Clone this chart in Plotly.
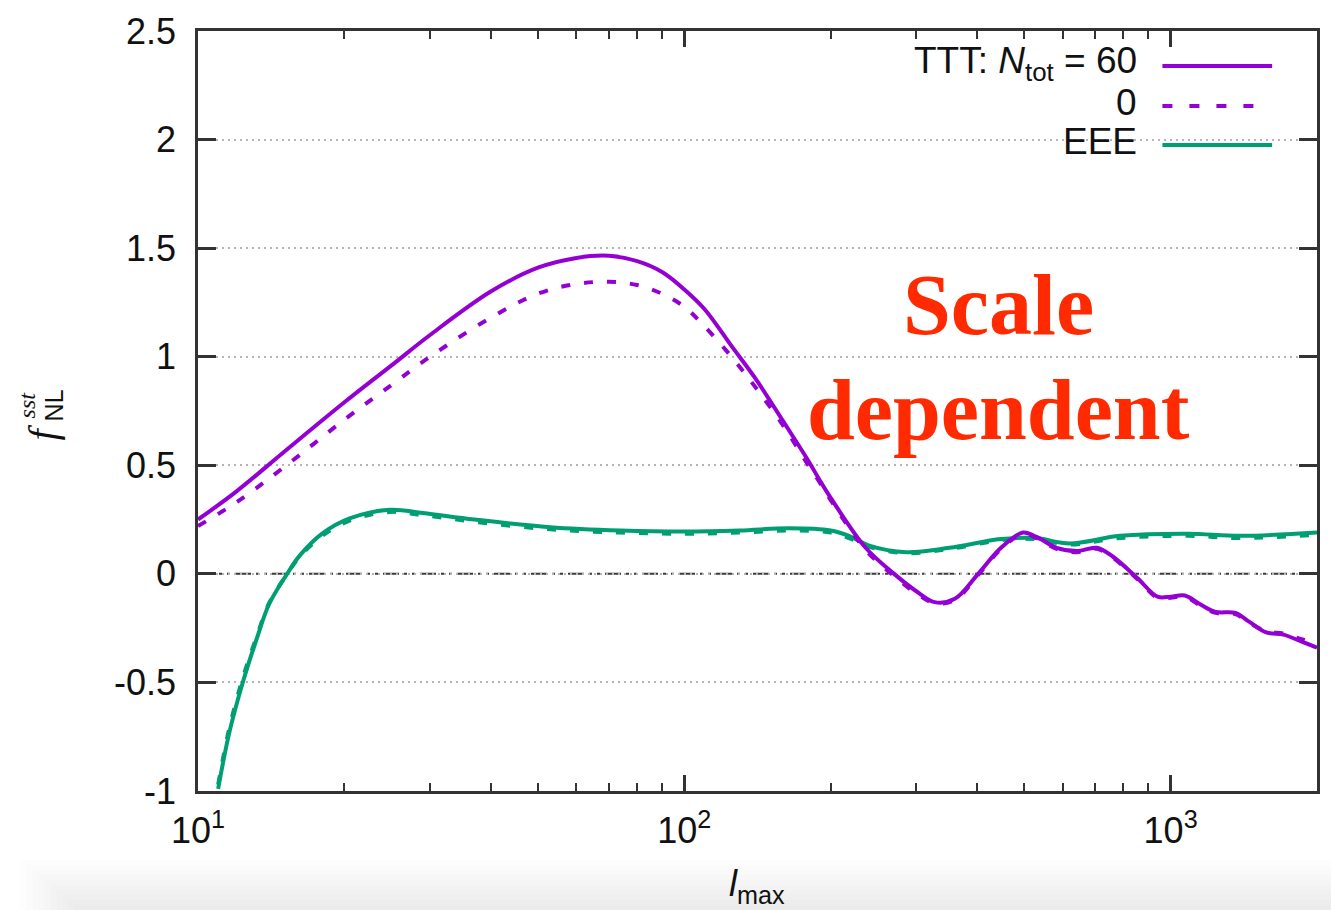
import numpy as np
import plotly.graph_objects as go

# ---- data -------------------------------------------------------------
# TTT bispectrum, N_tot = 60 (solid) and N_tot = 0 (dashed)
l_ttt = [10, 12, 15, 20, 25, 30, 40, 50, 60, 70, 80, 90, 100, 110, 125, 140,
         160, 180, 190, 200, 236, 270, 300, 327, 360, 402, 448, 497, 530, 583,
         641, 705, 760, 855, 940, 1000, 1069, 1150, 1237, 1359, 1450, 1573,
         1706, 1850, 2000]
f_ttt_60 = [0.25, 0.38, 0.56, 0.79, 0.96, 1.10, 1.30, 1.41, 1.455, 1.465, 1.44,
            1.39, 1.31, 1.22, 1.05, 0.90, 0.70, 0.52, 0.43, 0.35, 0.12, 0.0,
            -0.08, -0.13, -0.115, 0.0, 0.12, 0.19, 0.17, 0.12, 0.105, 0.12,
            0.08, -0.02, -0.105, -0.105, -0.10, -0.14, -0.175, -0.18, -0.22,
            -0.27, -0.28, -0.31, -0.34]
f_ttt_0 = [0.22, 0.33, 0.49, 0.71, 0.87, 1.00, 1.18, 1.29, 1.335, 1.345, 1.33,
           1.29, 1.23, 1.14, 1.00, 0.86, 0.68, 0.50, 0.42, 0.34, 0.11, -0.01,
           -0.09, -0.135, -0.12, -0.005, 0.115, 0.185, 0.165, 0.115, 0.10,
           0.115, 0.075, -0.025, -0.11, -0.11, -0.105, -0.145, -0.18, -0.185,
           -0.225, -0.265, -0.275, -0.30, -0.32]

# EEE bispectrum, N_tot = 60 (solid) and N_tot = 0 (dashed)
l_eee = [11.0, 11.6, 12.4, 13.2, 14.0, 15.2, 16.2, 18.0, 20.5, 24.8, 29, 37,
         53, 74, 100, 130, 164, 200, 218, 240, 286, 351, 448, 527, 620, 787,
         1089, 1387, 2000]
f_eee_60 = [-0.99, -0.73, -0.49, -0.30, -0.14, -0.005, 0.085, 0.185, 0.255, 0.295,
            0.28, 0.25, 0.215, 0.20, 0.195, 0.20, 0.21, 0.20, 0.175, 0.13,
            0.10, 0.12, 0.16, 0.165, 0.14, 0.175, 0.185, 0.175, 0.19]
f_eee_0 = [-0.97, -0.71, -0.47, -0.29, -0.135, -0.005, 0.08, 0.175, 0.245, 0.285,
           0.27, 0.24, 0.205, 0.19, 0.185, 0.19, 0.20, 0.19, 0.165, 0.125,
           0.095, 0.115, 0.155, 0.16, 0.135, 0.165, 0.175, 0.165, 0.18]

y_ticks = [-1, -0.5, 0, 0.5, 1, 1.5, 2, 2.5]
y_tick_text = ["-1", "-0.5", "0", "0.5", "1", "1.5", "2", "2.5"]
x_ticks = [10, 100, 1000]
x_tick_text = ["10<sup>1</sup>", "10<sup>2</sup>", "10<sup>3</sup>"]

legend_labels = ["TTT: <i>N</i><sub>tot</sub> = 60", "0", "EEE"]

# ---- styling ----------------------------------------------------------
PURPLE = "#9400d3"
GREEN = "#009e73"
W, H = 1331, 910
L, R, T, B = 198, 11, 31, 119
PW, PH = W - L - R, H - T - B
FONT = "Liberation Sans, Arial, sans-serif"


def px(x):
    return (x - L) / PW


def py(y):
    return (H - B - y) / PH


fig = go.Figure()

fig.add_trace(go.Scatter(x=l_eee, y=f_eee_0, mode="lines", line_shape="spline",
                         line=dict(color=GREEN, width=4, dash="9px,14px"),
                         showlegend=False))
fig.add_trace(go.Scatter(x=l_eee, y=f_eee_60, mode="lines", line_shape="spline",
                         line=dict(color=GREEN, width=4), showlegend=False))
fig.add_trace(go.Scatter(x=l_ttt, y=f_ttt_0, mode="lines", line_shape="spline",
                         line=dict(color=PURPLE, width=4, dash="9px,14px"),
                         showlegend=False))
fig.add_trace(go.Scatter(x=l_ttt, y=f_ttt_60, mode="lines", line_shape="spline",
                         line=dict(color=PURPLE, width=4), showlegend=False))

shapes = []
# zero reference line (dash-dot)
shapes.append(dict(type="line", xref="paper", yref="y", x0=0, x1=1, y0=0, y1=0,
                   line=dict(color="#3a3a3a", width=2,
                             dash="16px,5px,3px,5px,3px,5px"),
                   layer="between"))
# white key box hiding the grid behind the legend
shapes.append(dict(type="rect", xref="paper", yref="paper",
                   x0=px(843), x1=px(1318), y0=py(168), y1=py(34),
                   fillcolor="white", line=dict(width=0), layer="between"))
# legend samples
key_rows = [66, 106, 145]
key_styles = [(PURPLE, "solid", 1275), (PURPLE, "10px,17px", 1262), (GREEN, "solid", 1275)]
for yy, (col, dash, xend) in zip(key_rows, key_styles):
    shapes.append(dict(type="line", xref="paper", yref="paper",
                       x0=px(1165), x1=px(xend), y0=py(yy), y1=py(yy),
                       line=dict(color=col, width=4, dash=dash)))
# soft grey band along the bottom edge
for i in range(10):
    shapes.append(dict(type="rect", xref="paper", yref="paper",
                       x0=px(20 + i * 6), x1=px(W + 5), y0=py(H + 5), y1=py(860 + i * 5),
                       fillcolor="rgba(0,0,0,0.007)", line=dict(width=0), layer="above"))

annotations = []
for yy, txt in zip(key_rows, legend_labels):
    annotations.append(dict(xref="paper", yref="paper", x=px(1142), y=py(yy - 3),
                            xanchor="right", yanchor="middle", text=txt, showarrow=False,
                            font=dict(family=FONT, size=37, color="#111111")))
# axis titles
annotations.append(dict(xref="paper", yref="paper", x=px(758), y=py(886),
                        xanchor="center", yanchor="middle", showarrow=False,
                        text="<i>l</i><sub>max</sub>",
                        font=dict(family=FONT, size=36, color="#111111")))
annotations.append(dict(xref="paper", yref="paper", x=px(42), y=py(432),
                        xanchor="center", yanchor="middle", showarrow=False,
                        text="<i>f</i>", textangle=-90,
                        font=dict(family="Liberation Serif, serif", size=40, color="#111111")))
annotations.append(dict(xref="paper", yref="paper", x=px(54), y=py(405),
                        xanchor="center", yanchor="middle", showarrow=False,
                        text="NL", textangle=-90,
                        font=dict(family=FONT, size=25, color="#111111")))
annotations.append(dict(xref="paper", yref="paper", x=px(27), y=py(405),
                        xanchor="center", yanchor="middle", showarrow=False,
                        text="<i>sst</i>", textangle=-90,
                        font=dict(family="Liberation Serif, serif", size=24, color="#111111")))
# red remark
for txt, yc in [("Scale", 305), ("dependent", 410)]:
    annotations.append(dict(xref="paper", yref="paper", x=px(1001), y=py(yc),
                            xanchor="center", yanchor="middle", showarrow=False,
                            text="<b>%s</b>" % txt,
                            font=dict(family="Liberation Serif, Times New Roman, serif",
                                      size=86, color="#ff2a00")))

axis_common = dict(showline=True, linecolor="#333333", linewidth=2.5, mirror="ticks",
                   ticks="inside", tickcolor="#333333", tickwidth=2.5, zeroline=False,
                   tickfont=dict(family=FONT, size=36, color="#111111"))

fig.update_layout(
    width=W, height=H,
    margin=dict(l=L, r=R, t=T, b=B, pad=0),
    paper_bgcolor="white", plot_bgcolor="white",
    showlegend=False,
    xaxis=dict(type="log", range=[1, np.log10(2000)], tickvals=x_ticks,
               ticktext=x_tick_text, ticklen=16, showgrid=False,
               ticklabelstandoff=6,
               minor=dict(ticks="inside", ticklen=8, tickcolor="#333333",
                          tickwidth=2, dtick="D1", showgrid=False),
               **axis_common),
    yaxis=dict(range=[-1, 2.5], tickvals=y_ticks, ticktext=y_tick_text, ticklen=18,
               showgrid=True, gridcolor="#b5b5b5", gridwidth=1.5, griddash="2px,4px",
               ticklabelstandoff=12,
               **axis_common),
    shapes=shapes,
    annotations=annotations,
)

fig.write_html("out.html")
